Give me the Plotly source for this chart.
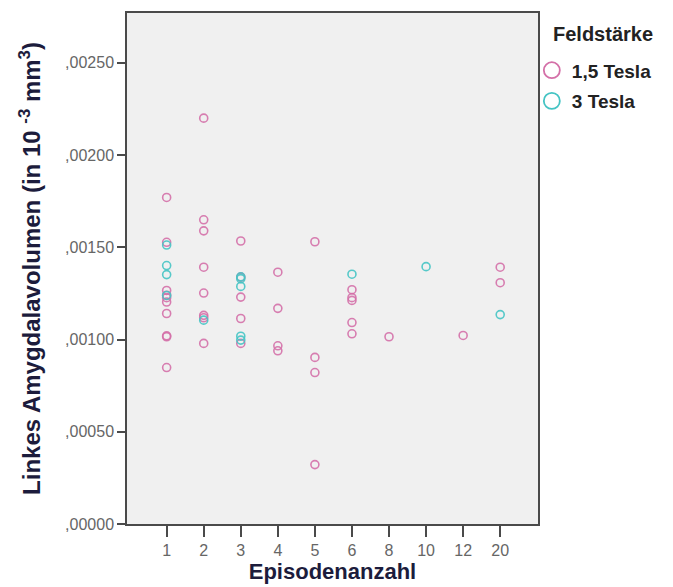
import plotly.graph_objects as go

# Episode-count categories (ordinal axis)
categories = ["1", "2", "3", "4", "5", "6", "8", "10", "12", "20"]

# Left amygdala volume by episode count, 1.5 Tesla scanner
t15_x = ["1", "1", "1", "1", "1", "1", "1", "1", "1", "1",
         "2", "2", "2", "2", "2", "2", "2", "2",
         "3", "3", "3", "3", "3",
         "4", "4", "4", "4",
         "5", "5", "5", "5",
         "6", "6", "6", "6", "6",
         "8", "12", "20", "20"]
t15_y = [0.001770, 0.001527, 0.001266, 0.001227, 0.001203, 0.001141, 0.001020, 0.001015, 0.000848, 0.001240,
         0.002200, 0.001649, 0.001589, 0.001392, 0.001252, 0.001131, 0.000979, 0.001118,
         0.001534, 0.001338, 0.001230, 0.001114, 0.000979,
         0.001365, 0.001169, 0.000966, 0.000939,
         0.001530, 0.000903, 0.000821, 0.000322,
         0.001270, 0.001227, 0.001212, 0.001092, 0.001031,
         0.001015, 0.001022, 0.001392, 0.001308]

# Left amygdala volume by episode count, 3 Tesla scanner
t3_x = ["1", "1", "1", "1", "2", "3", "3", "3", "3", "3", "6", "10", "20"]
t3_y = [0.001512, 0.001401, 0.001352, 0.001239, 0.001105, 0.001340, 0.001330, 0.001288, 0.001018, 0.000997,
        0.001354, 0.001395, 0.001135]

# Y axis ticks
y_ticks = [0.0, 0.0005, 0.0010, 0.0015, 0.0020, 0.0025]
y_ticktext = [f"{v:.5f}".replace("0.", ",", 1) for v in y_ticks]

PINK = "#d470a8"
TEAL = "#45c4c4"
FONT = "Arial, Liberation Sans, sans-serif"

# Plot-area geometry in pixels
W, H = 673, 587
ML, MR, MT, MB = 127, 135, 11, 62
plot_w = W - ML - MR
plot_h = H - MT - MB

fig = go.Figure()

for xs, ys, col, name in [(t15_x, t15_y, PINK, "1,5 Tesla"), (t3_x, t3_y, TEAL, "3 Tesla")]:
    fig.add_trace(go.Scatter(
        x=xs, y=ys, mode="markers", name=name, showlegend=False,
        marker=dict(symbol="circle-open", size=8, color=col, line=dict(width=1.6, color=col), opacity=0.9),
    ))

# Legend entries with larger symbols
for col, name in [(PINK, "1,5 Tesla"), (TEAL, "3 Tesla")]:
    fig.add_trace(go.Scatter(
        x=[None], y=[None], mode="markers", name=f"<b>{name}</b>", legendgroup=name,
        marker=dict(symbol="circle-open", size=17, color=col, line=dict(width=1.8, color=col)),
    ))

fig.update_layout(
    width=W, height=H,
    margin=dict(l=ML, r=MR, t=MT, b=MB),
    paper_bgcolor="white",
    plot_bgcolor="#f0f0f0",
    font=dict(family=FONT, color="#555555"),
    showlegend=True,
    legend=dict(
        x=0.985, y=0.925, xanchor="left", yanchor="top",
        font=dict(size=19, color="#222222"),
        itemsizing="trace", tracegroupgap=3,
        bgcolor="rgba(0,0,0,0)",
    ),
    annotations=[dict(
        text="<b>Feldstärke</b>",
        x=(551 - ML) / plot_w, y=(H - MB - 32) / plot_h,
        xref="paper", yref="paper",
        showarrow=False, font=dict(size=20, color="#222222"),
        xanchor="left", yanchor="middle",
    )],
    xaxis=dict(
        type="category", categoryorder="array", categoryarray=categories,
        tickvals=categories, ticktext=categories,
        range=[-1.07, 10.02],
        showline=True, mirror=True, linecolor="#4a4a4a", linewidth=1.5,
        ticks="outside", ticklen=11, tickwidth=1.5, tickcolor="#4a4a4a",
        tickfont=dict(size=16, color="#666666"),
        showgrid=False, zeroline=False,
        title=dict(text="<b>Episodenanzahl</b>", font=dict(size=22, color="#1c1c3c"), standoff=2),
    ),
    yaxis=dict(
        range=[0, 0.00277],
        tickvals=y_ticks, ticktext=y_ticktext,
        showline=True, mirror=True, linecolor="#4a4a4a", linewidth=1.5,
        ticks="outside", ticklen=8, tickwidth=1.5, tickcolor="#4a4a4a",
        tickfont=dict(size=16, color="#666666"),
        showgrid=False, zeroline=False,
        title=dict(text="<b>Linkes Amygdalavolumen (in 10 <sup>-3</sup> mm<sup>3</sup>)</b>",
                   font=dict(size=24, color="#1c1c3c"), standoff=18),
    ),
)

fig.write_html("out.html")
